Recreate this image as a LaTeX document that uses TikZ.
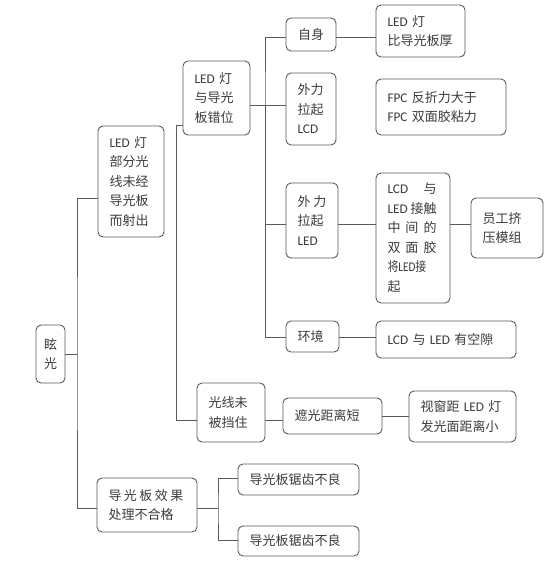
\documentclass[tikz,border=0pt]{standalone}
\usepackage{fontspec}
\setmainfont{Noto Sans CJK SC}
\newfontfamily\en[Scale=1.02]{Carlito}
\definecolor{lc}{HTML}{5A5A5A}
\definecolor{tx}{HTML}{3C3C3C}
\newcommand\E[1]{{\en #1}}
\newcommand\J[2]{\makebox[#1pt][s]{#2}}
\begin{document}
\begin{tikzpicture}[x=1pt,y=-1pt,
  bx/.style={draw=lc, line width=0.9pt, rounded corners=5pt, inner xsep=11.5pt, inner ysep=0pt, align=left, text=tx, font=\fontsize{13}{19.5}\selectfont},
  wire/.style={draw=lc, line width=0.9pt}]
\fill[white] (0,0) rectangle (550,561);
\useasboundingbox (0,0) rectangle (550,561);
\node[bx, minimum width=29pt, inner xsep=0pt, align=center, minimum height=58pt] (xg) at (50.5,354) {眩\\光};
\node[bx, text width=43pt, minimum height=111pt] (a1) at (131,181.5) {\E{LED} 灯\\部分光\\线未经\\导光板\\而射出};
\node[bx, text width=44pt, minimum height=74pt] (b1) at (216.5,98) {\E{LED} 灯\\与导光\\板错位};
\node[bx, text width=45pt, minimum height=59pt] (b2) at (231,412.5) {光线未\\被挡住};
\node[bx, text width=77pt, minimum height=54pt] (a2) at (147,505) {\J{75}{导\hfill 光\hfill 板\hfill 效\hfill 果}\\处理不合格};
\node[bx, text width=98pt, minimum height=31pt] (c1) at (298.5,479.5) {导光板锯齿不良};
\node[bx, text width=98pt, minimum height=30pt] (c2) at (298.5,541) {导光板锯齿不良};
\node[bx, minimum width=50pt, inner xsep=0pt, align=center, minimum height=33pt] (d1) at (311,34.5) {自身};
\node[bx, text width=27pt, minimum height=72pt] (d2) at (311,109) {外力\\拉起\\\E{LCD}};
\node[bx, text width=29pt, minimum height=75pt] (d3) at (312,220.5) {\J{29}{外\hfill 力}\\拉起\\\E{LED}};
\node[bx, text width=30pt, minimum height=31pt] (d4) at (312.5,336.5) {环境};
\node[bx, text width=66pt, minimum height=52pt] (e1) at (420.5,31) {\E{LED} 灯\\比导光板厚};
\node[bx, text width=107pt, minimum height=56pt] (e2) at (441,107) {\E{FPC} 反折力大于\\\E{FPC} 双面胶粘力};
\node[bx, text width=51pt, minimum height=130pt] (e3) at (413,238) {\J{49}{\E{LCD}\hfill 与}\\\J{49}{\E{LED}\hfill 接触}\\\J{49}{中\hfill 间\hfill 的}\\\J{49}{双\hfill 面\hfill 胶}\\\scalebox{0.84}[1]{将\E{LED}接}\\起};
\node[bx, text width=117pt, minimum height=37pt] (e4) at (446,339.5) {\E{LCD} 与 \E{LED} 有空隙};
\node[bx, text width=49pt, minimum height=60pt] (f1) at (507,228) {员工挤\\压模组};
\node[bx, text width=76pt, minimum height=36pt] (g1) at (332.5,416) {遮光距离短};
\node[bx, text width=84pt, minimum height=51pt] (g2) at (462.5,416.5) {视窗距 \E{LED} 灯\\发光面距离小};
% connectors
\coordinate (j0) at (77,354);
\coordinate (j1) at (176,125);
\coordinate (j2) at (265,105);
\coordinate (j3) at (218,508);
\draw[wire] (xg.east) -- (j0);
\draw[wire] (a1.west |- 0,198) -| (j0) |- (a2.west |- 0,508);
\draw[wire] (b1.west |- 0,125) -- (j1) |- (b2.west |- 0,420);
\draw[wire] (b1.east |- 0,105) -- (d2.west |- 0,105);
\draw[wire] (d1.west |- 0,37) -| (j2) |- (d4.west |- 0,337);
\draw[wire] (j2) |- (d3.west |- 0,224);
\draw[wire] (d1.east |- 0,37) -- (e1.west |- 0,37);
\draw[wire] (d3.east |- 0,224) -- (e3.west |- 0,224);
\draw[wire] (e3.east |- 0,224) -- (f1.west |- 0,224);
\draw[wire] (d4.east |- 0,337) -- (e4.west |- 0,337);
\draw[wire] (b2.east |- 0,420) -- (g1.west |- 0,420);
\draw[wire] (g1.east |- 0,416) -- (g2.west |- 0,416);
\draw[wire] (a2.east |- 0,508) -- (j3);
\draw[wire] (c1.west |- 0,478) -| (j3) |- (c2.west |- 0,540);
\end{tikzpicture}
\end{document}
